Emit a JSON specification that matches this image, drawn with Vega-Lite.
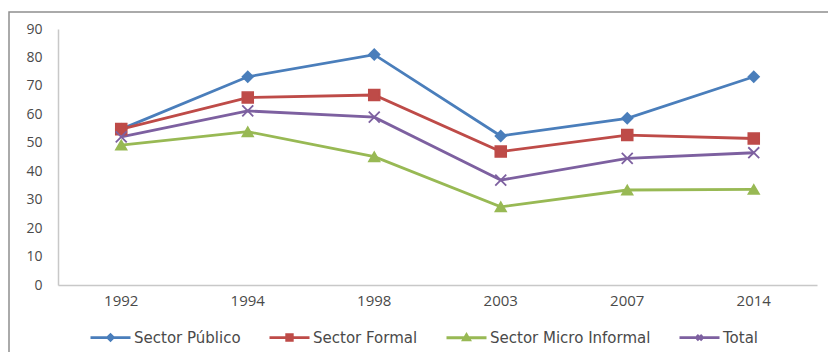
{
  "$schema": "https://vega.github.io/schema/vega-lite/v6.json",
  "autosize": {"type": "none"},
  "padding": {"left": 9, "top": 12, "right": 0, "bottom": 0},
  "width": 830,
  "height": 350,
  "background": "white",
  "config": {
    "view": {"stroke": "#8f8f8f", "strokeWidth": 1.5},
    "font": "Open Sans"
  },
  "data": {
    "values": [
      {"anio": "1992", "serie": "Sector Público", "valor": 54.8},
      {"anio": "1994", "serie": "Sector Público", "valor": 73.2},
      {"anio": "1998", "serie": "Sector Público", "valor": 81.0},
      {"anio": "2003", "serie": "Sector Público", "valor": 52.4},
      {"anio": "2007", "serie": "Sector Público", "valor": 58.6},
      {"anio": "2014", "serie": "Sector Público", "valor": 73.2},
      {"anio": "1992", "serie": "Sector Formal", "valor": 54.8},
      {"anio": "1994", "serie": "Sector Formal", "valor": 65.9},
      {"anio": "1998", "serie": "Sector Formal", "valor": 66.8},
      {"anio": "2003", "serie": "Sector Formal", "valor": 46.9},
      {"anio": "2007", "serie": "Sector Formal", "valor": 52.7},
      {"anio": "2014", "serie": "Sector Formal", "valor": 51.5},
      {"anio": "1992", "serie": "Sector Micro Informal", "valor": 49.2},
      {"anio": "1994", "serie": "Sector Micro Informal", "valor": 53.9},
      {"anio": "1998", "serie": "Sector Micro Informal", "valor": 45.1},
      {"anio": "2003", "serie": "Sector Micro Informal", "valor": 27.5},
      {"anio": "2007", "serie": "Sector Micro Informal", "valor": 33.4},
      {"anio": "2014", "serie": "Sector Micro Informal", "valor": 33.6},
      {"anio": "1992", "serie": "Total", "valor": 52.1},
      {"anio": "1994", "serie": "Total", "valor": 61.2},
      {"anio": "1998", "serie": "Total", "valor": 59.0},
      {"anio": "2003", "serie": "Total", "valor": 36.9},
      {"anio": "2007", "serie": "Total", "valor": 44.5},
      {"anio": "2014", "serie": "Total", "valor": 46.5}
    ]
  },
  "encoding": {
    "x": {
      "field": "anio",
      "type": "ordinal",
      "sort": null,
      "scale": {"type": "band", "range": [49, 808], "paddingInner": 0, "paddingOuter": 0},
      "axis": {
        "title": null,
        "orient": "bottom",
        "offset": -77,
        "labelAngle": 0,
        "ticks": false,
        "domainColor": "#c8c8c8",
        "domainWidth": 1.5,
        "labelPadding": 8,
        "labelFont": "Open Sans",
        "labelFontSize": 15,
        "labelColor": "#4a4a4a"
      }
    },
    "y": {
      "field": "valor",
      "type": "quantitative",
      "scale": {"domain": [0, 90], "range": [273, 17], "nice": false, "zero": true},
      "axis": {
        "title": null,
        "orient": "left",
        "offset": -49,
        "values": [0, 10, 20, 30, 40, 50, 60, 70, 80, 90],
        "grid": false,
        "ticks": false,
        "domainColor": "#c8c8c8",
        "domainWidth": 1.5,
        "labelPadding": 16,
        "labelFont": "Open Sans",
        "labelFontSize": 14,
        "labelColor": "#4a4a4a"
      }
    },
    "color": {
      "field": "serie",
      "type": "nominal",
      "sort": ["Sector Público", "Sector Formal", "Sector Micro Informal", "Total"],
      "scale": {
        "domain": ["Sector Público", "Sector Formal", "Sector Micro Informal", "Total"],
        "range": ["#4a7ebb", "#be4b48", "#98b954", "#7d60a0"]
      },
      "legend": {
        "title": null,
        "orient": "none",
        "direction": "horizontal",
        "legendX": 80,
        "legendY": 304,
        "symbolSize": 1600,
        "symbolStrokeWidth": 2.8,
        "labelOffset": 2,
        "labelLimit": 400,
        "columnPadding": 22,
        "labelFont": "DejaVu Sans",
        "labelFontSize": 15,
        "labelColor": "#4a4a4a",
        "encode": {
          "symbols": {
            "update": {
              "shape": {"signal": "datum.value === 'Sector Público' ? 'M-1,0H1M-0.14,0L0,-0.14L0.14,0L0,0.14Z' : datum.value === 'Sector Formal' ? 'M-1,0H1M-0.14,-0.14H0.14V0.14H-0.14Z' : datum.value === 'Sector Micro Informal' ? 'M-1,0H1M-0.15,0.1L0,-0.15L0.15,0.1Z' : 'M-1,0H1M-0.13,-0.13L0.13,0.13M-0.13,0.13L0.13,-0.13'"},
              "fill": {"signal": "datum.value === 'Sector Público' ? '#4a7ebb' : datum.value === 'Sector Formal' ? '#be4b48' : datum.value === 'Sector Micro Informal' ? '#98b954' : '#7d60a0'"},
              "stroke": {"signal": "datum.value === 'Sector Público' ? '#4a7ebb' : datum.value === 'Sector Formal' ? '#be4b48' : datum.value === 'Sector Micro Informal' ? '#98b954' : '#7d60a0'"},
              "strokeWidth": {"value": 2.8},
              "opacity": {"value": 1}
            }
          }
        }
      }
    }
  },
  "layer": [
    {
      "mark": {"type": "line", "strokeWidth": 2.8}
    },
    {
      "transform": [{"filter": "datum.serie === 'Sector Público'"}],
      "mark": {"type": "point", "shape": "diamond", "filled": true, "size": 115, "opacity": 1, "strokeWidth": 1.6, "stroke": "#4a7ebb"}
    },
    {
      "transform": [{"filter": "datum.serie === 'Sector Formal'"}],
      "mark": {"type": "point", "shape": "square", "filled": true, "size": 120, "opacity": 1, "strokeWidth": 1.6, "stroke": "#be4b48"}
    },
    {
      "transform": [{"filter": "datum.serie === 'Sector Micro Informal'"}],
      "mark": {"type": "point", "shape": "triangle-up", "filled": true, "size": 115, "opacity": 1, "strokeWidth": 1.6, "stroke": "#98b954"}
    },
    {
      "transform": [{"filter": "datum.serie === 'Total'"}],
      "mark": {"type": "point", "shape": "M-1,-1L1,1M-1,1L1,-1", "filled": false, "size": 120, "opacity": 1, "strokeWidth": 1.8}
    }
  ]
}
